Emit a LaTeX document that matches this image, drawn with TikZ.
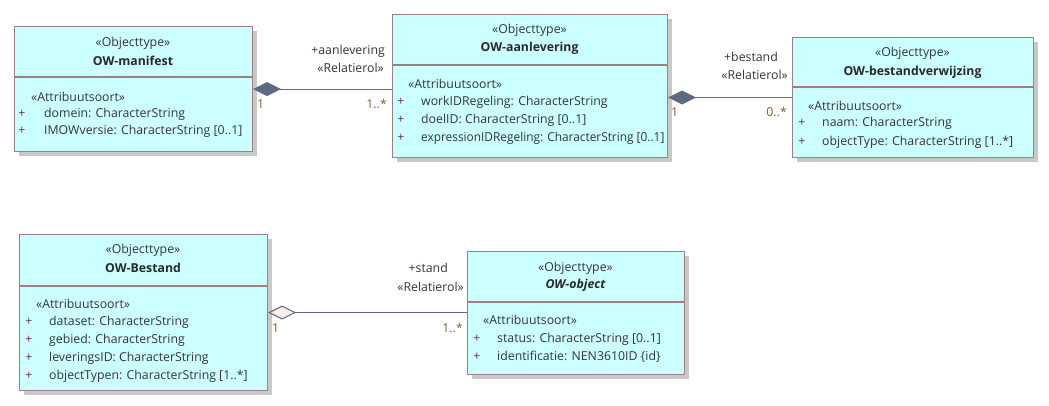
\documentclass[tikz,border=0pt]{standalone}
\usepackage{fontspec}
\setmainfont{Open Sans}
\usetikzlibrary{arrows.meta,shadows}
\definecolor{clsfill}{RGB}{204,255,255}
\definecolor{clsborder}{RGB}{158,128,128}
\definecolor{shadowgray}{RGB}{200,200,200}
\definecolor{txtcol}{RGB}{52,52,52}
\definecolor{namecol}{RGB}{40,40,40}
\definecolor{multcol}{RGB}{140,92,45}
\definecolor{pluscol}{RGB}{112,40,96}
\definecolor{linecol}{RGB}{98,108,135}
\definecolor{diafill}{RGB}{94,104,130}
\definecolor{hollowfill}{RGB}{251,237,232}
\begin{document}
\begin{tikzpicture}[x=1pt,y=-1pt,
  cls/.style={draw=clsborder, fill=clsfill, line width=1.1pt, anchor=north west, inner sep=0pt,
    drop shadow={shadow xshift=4pt, shadow yshift=-4pt, fill=shadowgray, opacity=1}},
  divider/.style={draw=clsborder, line width=1.1pt},
  txt/.style={font=\fontsize{12.3}{14}\selectfont, text=txtcol, inner sep=0pt},
  stereo/.style={txt, anchor=center},
  cname/.style={txt, anchor=center, text=namecol, font=\fontsize{12.3}{14}\selectfont\bfseries},
  attrhead/.style={txt, anchor=west},
  attr/.style={txt, anchor=west},
  plus/.style={txt, anchor=center, text=pluscol},
  mult/.style={txt, text=multcol},
  role/.style={txt, anchor=east},
  assoc/.style={draw=linecol, line width=1.1pt},
  comp/.style={assoc, {Diamond[length=28pt,width=14pt,fill=diafill,line join=miter]}-},
  aggr/.style={assoc, {Diamond[length=28pt,width=14pt,fill=hollowfill,line join=miter]}-}
]
\useasboundingbox (0,0) rectangle (1049,405);

% ---- OW-manifest
\node[cls, minimum width=238pt, minimum height=125pt] (man) at (14,26) {};
\draw[divider] (man.west |- 0,77) -- (man.east |- 0,77);
\node[stereo] (manS) at (133,43) {«Objecttype»};
\node[cname] (manN) at (133,61) {OW-manifest};
\node[attrhead] (manA) at (31,97) {«Attribuutsoort»};
\node[plus] (manP1) at (22,114) {+};
\node[attr] (manT1) at (44,114) {domein: CharacterString};
\node[plus] (manP2) at (22,131) {+};
\node[attr] (manT2) at (44,131) {IMOWversie: CharacterString [0..1]};

% ---- OW-aanlevering
\node[cls, minimum width=275pt, minimum height=143pt] (aan) at (392,14) {};
\draw[divider] (aan.west |- 0,65) -- (aan.east |- 0,65);
\node[stereo] (aanS) at (529.5,30) {«Objecttype»};
\node[cname] (aanN) at (529.5,48) {OW-aanlevering};
\node[attrhead] (aanA) at (408,84) {«Attribuutsoort»};
\node[plus] (aanP1) at (401,102) {+};
\node[attr] (aanT1) at (421,102) {workIDRegeling: CharacterString};
\node[plus] (aanP2) at (401,120) {+};
\node[attr] (aanT2) at (421,120) {doelID: CharacterString [0..1]};
\node[plus] (aanP3) at (401,138) {+};
\node[attr] (aanT3) at (421,138) {\scalebox{0.965}[1]{expressionIDRegeling: CharacterString [0..1]}};

% ---- OW-bestandverwijzing
\node[cls, minimum width=241pt, minimum height=120pt] (bvw) at (792,37) {};
\draw[divider] (bvw.west |- 0,87) -- (bvw.east |- 0,87);
\node[stereo] (bvwS) at (912.5,53) {«Objecttype»};
\node[cname] (bvwN) at (912.5,72) {OW-bestandverwijzing};
\node[attrhead] (bvwA) at (808,106) {«Attribuutsoort»};
\node[plus] (bvwP1) at (802,123) {+};
\node[attr] (bvwT1) at (822,123) {naam: CharacterString};
\node[plus] (bvwP2) at (802,142) {+};
\node[attr] (bvwT2) at (822,142) {objectType: CharacterString [1..*]};

% ---- OW-Bestand
\node[cls, minimum width=248pt, minimum height=156pt] (bst) at (19,234) {};
\draw[divider] (bst.west |- 0,286) -- (bst.east |- 0,286);
\node[stereo] (bstS) at (143,250) {«Objecttype»};
\node[cname] (bstN) at (143,268) {OW-Bestand};
\node[attrhead] (bstA) at (36,304) {«Attribuutsoort»};
\node[plus] (bstP1) at (29,322) {+};
\node[attr] (bstT1) at (49,322) {dataset: CharacterString};
\node[plus] (bstP2) at (29,340) {+};
\node[attr] (bstT2) at (49,340) {gebied: CharacterString};
\node[plus] (bstP3) at (29,358) {+};
\node[attr] (bstT3) at (49,358) {leveringsID: CharacterString};
\node[plus] (bstP4) at (29,376) {+};
\node[attr] (bstT4) at (49,376) {objectTypen: CharacterString [1..*]};

% ---- OW-object
\node[cls, minimum width=217pt, minimum height=123pt] (obj) at (467,251) {};
\draw[divider] (obj.west |- 0,302) -- (obj.east |- 0,302);
\node[stereo] (objS) at (575.5,268) {«Objecttype»};
\node[cname, font=\fontsize{12.3}{14}\selectfont\bfseries\itshape] (objN) at (575.5,285) {OW-object};
\node[attrhead] (objA) at (483,320) {«Attribuutsoort»};
\node[plus] (objP1) at (477,339) {+};
\node[attr] (objT1) at (497,339) {status: CharacterString [0..1]};
\node[plus] (objP2) at (477,357) {+};
\node[attr] (objT2) at (497,357) {identificatie: NEN3610ID \{id\}};

% ---- connectors
\draw[comp] (man.east) -- (aan.west |- man.east);
\node[role] (r1a) at (385,51) {+aanlevering};
\node[role] (r1b) at (384,68) {«Relatierol»};
\node[mult, anchor=west] (m1a) at (257,104) {1};
\node[mult, anchor=east] (m1b) at (387,104) {1..*};

\draw[comp] (aan.east |- bvw.west) -- (bvw.west);
\node[role] (r2a) at (778,57) {+bestand};
\node[role] (r2b) at (788,75) {«Relatierol»};
\node[mult, anchor=west] (m2a) at (671,112) {1};
\node[mult, anchor=east] (m2b) at (787,112) {0..*};

\draw[aggr] (bst.east) -- (obj.west |- bst.east);
\node[role] (r3a) at (448,268) {+stand};
\node[role] (r3b) at (464,287) {«Relatierol»};
\node[mult, anchor=west] (m3a) at (272,328) {1};
\node[mult, anchor=east] (m3b) at (463,328) {1..*};
\end{tikzpicture}
\end{document}
